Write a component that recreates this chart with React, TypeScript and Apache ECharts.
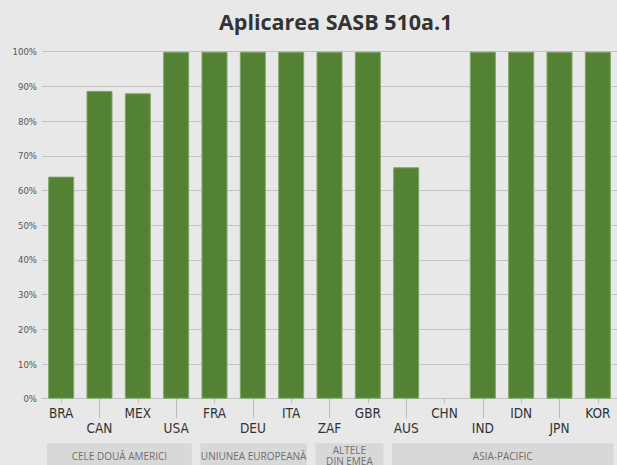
import React, { useEffect, useRef } from 'react';
import * as echarts from 'echarts';

const categories = ['BRA', 'CAN', 'MEX', 'USA', 'FRA', 'DEU', 'ITA', 'ZAF', 'GBR', 'AUS', 'CHN', 'IND', 'IDN', 'JPN', 'KOR'];
const values = [64, 88.7, 88, 100, 100, 100, 100, 100, 100, 66.7, 0, 100, 100, 100, 100];
const titleText = 'Aplicarea SASB 510a.1';
const groupNames = ['CELE DOUĂ AMERICI', 'UNIUNEA EUROPEANĂ', 'ALTELE\nDIN EMEA', 'ASIA-PACIFIC'];
const groupFirst = ['BRA', 'FRA', 'ZAF', 'AUS'];
const groupLast = ['USA', 'ITA', 'GBR', 'KOR'];

const NARROW = '"Liberation Sans Narrow", "DejaVu Sans Condensed", sans-serif';

export default function App() {
  const ref = useRef<HTMLDivElement>(null);
  useEffect(() => {
    if (!ref.current) return;
    const chart = echarts.init(ref.current, null, { renderer: 'svg' });
    const xCommon = {
      type: 'category' as const,
      data: categories,
      position: 'bottom' as const,
      boundaryGap: true,
    };
    chart.setOption({
      animation: false,
      backgroundColor: '#e8e8e8',
      title: {
        text: titleText,
        left: 214,
        top: 5,
        textStyle: { fontFamily: '"Open Sans", sans-serif', fontWeight: 'bold', fontSize: 21.5, color: '#333' },
      },
      grid: { left: 42, right: -7.5, top: 51.7, bottom: 66.3, containLabel: false },
      xAxis: [
        {
          ...xCommon,
          axisLine: { show: true, lineStyle: { color: '#c4c4c4', width: 1 } },
          axisTick: { show: true, alignWithLabel: true, length: 4.5, interval: (i: number) => i % 2 === 0, lineStyle: { color: '#bcbcbc' } },
          axisLabel: { interval: (i: number) => i % 2 === 0, margin: 7, fontSize: 13.5, color: '#333', fontFamily: NARROW },
        },
        {
          ...xCommon,
          axisLine: { show: false },
          axisTick: { show: true, alignWithLabel: true, length: 19.5, interval: (i: number) => i % 2 === 1, lineStyle: { color: '#bcbcbc' } },
          axisLabel: { interval: (i: number) => i % 2 === 1, margin: 22, fontSize: 13.5, color: '#333', fontFamily: NARROW },
        },
      ],
      yAxis: {
        type: 'value',
        min: 0,
        max: 100,
        interval: 10,
        axisLine: { show: false },
        axisTick: { show: false },
        splitLine: { lineStyle: { color: '#c4c4c4', width: 1.2 } },
        axisLabel: { formatter: '{value}%', margin: 5, fontSize: 9.5, color: '#555', fontFamily: NARROW },
      },
      series: [
        {
          type: 'bar',
          xAxisIndex: 0,
          data: values.map((v) => ({ value: v, itemStyle: { borderWidth: v === 0 ? 0 : 1 } })),
          barWidth: 26,
          itemStyle: { color: '#548235', borderColor: '#80a466', borderWidth: 1 },
        },
      ],
    });

    const c0 = chart.convertToPixel({ xAxisIndex: 0 }, categories[0]) as number;
    const c1 = chart.convertToPixel({ xAxisIndex: 0 }, categories[1]) as number;
    const band = c1 - c0;
    const y0 = chart.convertToPixel({ yAxisIndex: 0 }, 0) as number;
    const boxTop = y0 + 44.5;
    const graphics: any[] = [];
    groupNames.forEach((name, gi) => {
      const a = chart.convertToPixel({ xAxisIndex: 0 }, groupFirst[gi]) as number;
      const b = chart.convertToPixel({ xAxisIndex: 0 }, groupLast[gi]) as number;
      const left = a - band / 2 + 5;
      const right = b + band / 2 - 3.5;
      graphics.push({
        type: 'rect',
        shape: { x: left, y: boxTop, width: right - left, height: 40 },
        style: { fill: '#d8d8d8' },
        silent: true,
      });
      const visRight = Math.min(right, 617);
      const twoLine = name.includes('\n');
      graphics.push({
        type: 'text',
        x: (left + visRight) / 2,
        y: boxTop + (twoLine ? 12 : 13),
        style: {
          text: name,
          fontSize: 10,
          lineHeight: 11,
          fontFamily: '"Open Sans", sans-serif',
          fill: '#6f6f6f',
          align: 'center',
          verticalAlign: 'middle',
        },
        silent: true,
      });
    });
    chart.setOption({ graphic: graphics });

    return () => chart.dispose();
  }, []);
  return <div ref={ref} style={{ position: 'absolute', left: 0, top: 0, width: 617, height: 465 }} />;
}
